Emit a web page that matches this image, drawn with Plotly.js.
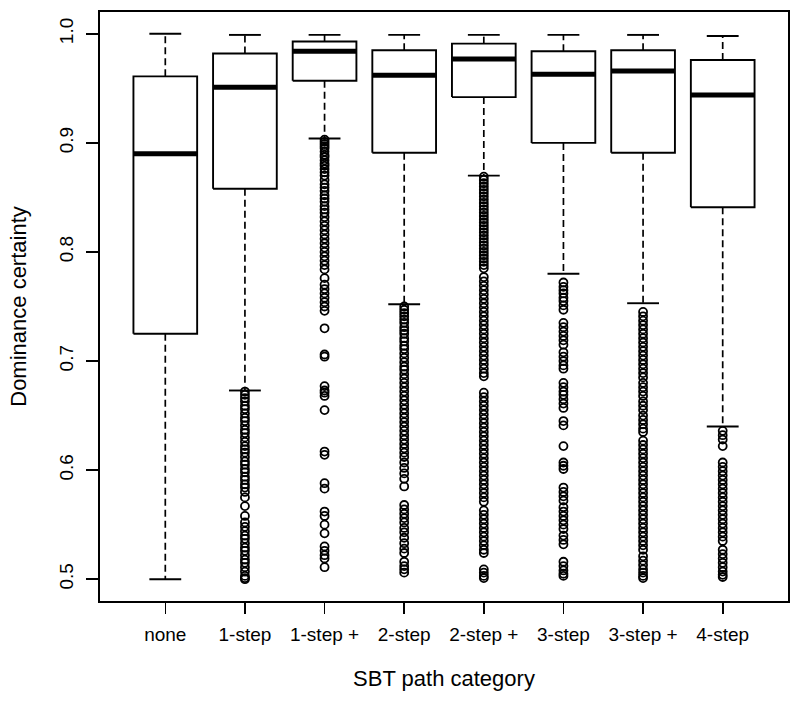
<!DOCTYPE html>
<html>
<head>
<meta charset="utf-8">
<script src="https://cdn.plot.ly/plotly-3.0.1.min.js"></script>
<style>html,body{margin:0;padding:0;background:#fff;}#chart{width:800px;height:703px;}</style>
</head>
<body>
<div id="chart"></div>
<script>
const categories = ['none','1-step','1-step +','2-step','2-step +','3-step','3-step +','4-step'];
const lowerWhisker = [0.500,0.673,0.904,0.752,0.870,0.780,0.753,0.640];
const q1 = [0.725,0.858,0.957,0.891,0.942,0.900,0.891,0.841];
const median = [0.890,0.951,0.984,0.962,0.977,0.963,0.966,0.944];
const q3 = [0.961,0.982,0.993,0.985,0.991,0.984,0.985,0.976];
const upperWhisker = [1.000,0.999,0.999,0.999,0.999,0.999,0.999,0.998];

const outNone = [];
const out1step = [0.672,0.669,0.666,0.663,0.659,0.656,0.652,0.648,0.645,0.641,0.637,0.634,0.630,0.626,0.622,0.619,0.616,0.612,0.608,0.605,0.601,0.598,0.594,0.591,0.587,0.584,0.580,0.575,0.567,0.558,0.552,0.548,0.544,0.540,0.537,0.533,0.529,0.526,0.522,0.518,0.515,0.511,0.507,0.503,0.501,0.500];
const out1stepPlus = [0.903,0.901,0.899,0.897,0.895,0.892,0.889,0.887,0.884,0.881,0.879,0.876,0.873,0.870,0.866,0.862,0.859,0.856,0.852,0.849,0.846,0.842,0.839,0.836,0.832,0.828,0.824,0.820,0.816,0.812,0.808,0.804,0.800,0.796,0.792,0.788,0.784,0.776,0.770,0.766,0.762,0.758,0.754,0.750,0.746,0.730,0.706,0.704,0.677,0.673,0.671,0.668,0.655,0.617,0.614,0.588,0.583,0.562,0.558,0.550,0.542,0.530,0.526,0.522,0.519,0.511];
const out2step = [0.750,0.747,0.744,0.741,0.738,0.735,0.731,0.728,0.725,0.721,0.718,0.714,0.711,0.707,0.703,0.699,0.695,0.692,0.688,0.684,0.680,0.676,0.672,0.668,0.664,0.660,0.656,0.652,0.648,0.644,0.640,0.636,0.632,0.628,0.624,0.620,0.616,0.612,0.607,0.602,0.597,0.592,0.585,0.568,0.564,0.560,0.556,0.552,0.547,0.543,0.538,0.533,0.528,0.524,0.516,0.512,0.509,0.506];
const out2stepPlus = [0.869,0.866,0.863,0.860,0.857,0.854,0.851,0.848,0.845,0.842,0.839,0.836,0.833,0.830,0.827,0.824,0.821,0.818,0.815,0.812,0.809,0.806,0.803,0.800,0.797,0.794,0.791,0.788,0.785,0.777,0.773,0.769,0.765,0.761,0.757,0.753,0.749,0.745,0.741,0.737,0.733,0.729,0.725,0.721,0.717,0.713,0.709,0.705,0.701,0.697,0.693,0.689,0.686,0.671,0.667,0.663,0.659,0.655,0.651,0.647,0.643,0.639,0.635,0.631,0.627,0.623,0.619,0.615,0.611,0.607,0.603,0.599,0.595,0.591,0.587,0.583,0.579,0.575,0.571,0.563,0.559,0.555,0.551,0.547,0.543,0.539,0.535,0.531,0.527,0.524,0.509,0.506,0.503,0.501];
const out3step = [0.772,0.768,0.765,0.762,0.758,0.755,0.751,0.747,0.735,0.731,0.727,0.723,0.719,0.715,0.708,0.704,0.700,0.696,0.693,0.680,0.676,0.672,0.669,0.665,0.661,0.657,0.645,0.641,0.622,0.607,0.604,0.601,0.584,0.580,0.576,0.572,0.566,0.562,0.558,0.554,0.550,0.546,0.540,0.536,0.532,0.516,0.512,0.508,0.505,0.503];
const out3stepPlus = [0.745,0.741,0.737,0.733,0.729,0.725,0.721,0.717,0.713,0.709,0.705,0.701,0.697,0.693,0.689,0.685,0.680,0.676,0.672,0.668,0.663,0.659,0.655,0.650,0.646,0.642,0.638,0.635,0.627,0.623,0.619,0.615,0.611,0.607,0.603,0.599,0.595,0.591,0.587,0.583,0.579,0.575,0.571,0.567,0.563,0.559,0.555,0.551,0.547,0.543,0.539,0.535,0.531,0.527,0.521,0.517,0.513,0.509,0.506,0.503,0.501];
const out4step = [0.636,0.632,0.628,0.622,0.607,0.603,0.599,0.595,0.591,0.587,0.583,0.579,0.575,0.571,0.567,0.563,0.559,0.555,0.551,0.547,0.543,0.539,0.535,0.527,0.523,0.519,0.515,0.511,0.507,0.504,0.502];
const outliers = [outNone,out1step,out1stepPlus,out2step,out2stepPlus,out3step,out3stepPlus,out4step];

const yTicks = [0.5,0.6,0.7,0.8,0.9,1.0];
const yTickText = ['0.5','0.6','0.7','0.8','0.9','1.0'];

const BOXHALF = 0.4, CAPHALF = 0.2;
const boxX = [], boxY = [], medX = [], medY = [], whX = [], whY = [], capX = [], capY = [], oX = [], oY = [];
categories.forEach((c, k) => {
  const i = k + 1;
  boxX.push(i-BOXHALF, i+BOXHALF, i+BOXHALF, i-BOXHALF, i-BOXHALF, null);
  boxY.push(q1[k], q1[k], q3[k], q3[k], q1[k], null);
  medX.push(i-BOXHALF, i+BOXHALF, null);
  medY.push(median[k], median[k], null);
  whX.push(i, i, null, i, i, null);
  whY.push(q3[k], upperWhisker[k], null, q1[k], lowerWhisker[k], null);
  capX.push(i-CAPHALF, i+CAPHALF, null, i-CAPHALF, i+CAPHALF, null);
  capY.push(upperWhisker[k], upperWhisker[k], null, lowerWhisker[k], lowerWhisker[k], null);
  outliers[k].forEach(v => { oX.push(i); oY.push(v); });
});

const traces = [
  {x: whX, y: whY, mode: 'lines', line: {color: '#000', width: 1.7, dash: '7px,4px'}, hoverinfo: 'skip'},
  {x: capX, y: capY, mode: 'lines', line: {color: '#000', width: 1.9}, hoverinfo: 'skip'},
  {x: boxX, y: boxY, mode: 'lines', line: {color: '#000', width: 1.9}, hoverinfo: 'skip'},
  {x: medX, y: medY, mode: 'lines', line: {color: '#000', width: 5}, hoverinfo: 'skip'},
  {x: oX, y: oY, mode: 'markers', marker: {symbol: 'circle-open', size: 8, color: '#000', line: {width: 1.8, color: '#000'}}}
];

const font = {family: 'Liberation Sans, Arial, sans-serif', color: '#000'};
const layout = {
  width: 800, height: 703,
  margin: {l: 100, r: 12, t: 12, b: 102},
  paper_bgcolor: '#fff', plot_bgcolor: '#fff',
  showlegend: false,
  font: Object.assign({size: 19}, font),
  xaxis: {
    range: [0.18, 8.82], tickmode: 'array', tickvals: categories.map((c,k)=>k+1), ticktext: categories,
    showgrid: false, zeroline: false, showline: true, mirror: true, linecolor: '#000', linewidth: 1.6,
    ticks: 'outside', ticklen: 11, tickwidth: 1.6, tickcolor: '#000', ticklabelstandoff: 5,
    tickfont: Object.assign({size: 19}, font),
    title: {text: 'SBT path category', font: Object.assign({size: 22}, font), standoff: 26}
  },
  yaxis: {
    range: [0.48, 1.02], tickmode: 'array', tickvals: yTicks, ticktext: yTickText, tickangle: -90,
    showgrid: false, zeroline: false, showline: true, mirror: true, linecolor: '#000', linewidth: 1.6,
    ticks: 'outside', ticklen: 12, tickwidth: 1.6, tickcolor: '#000', ticklabelstandoff: 6,
    tickfont: Object.assign({size: 19}, font),
    title: {text: 'Dominance certainty', font: Object.assign({size: 22}, font), standoff: 23}
  }
};
Plotly.newPlot('chart', traces, layout, {staticPlot: true, displayModeBar: false});
</script>
</body>
</html>
